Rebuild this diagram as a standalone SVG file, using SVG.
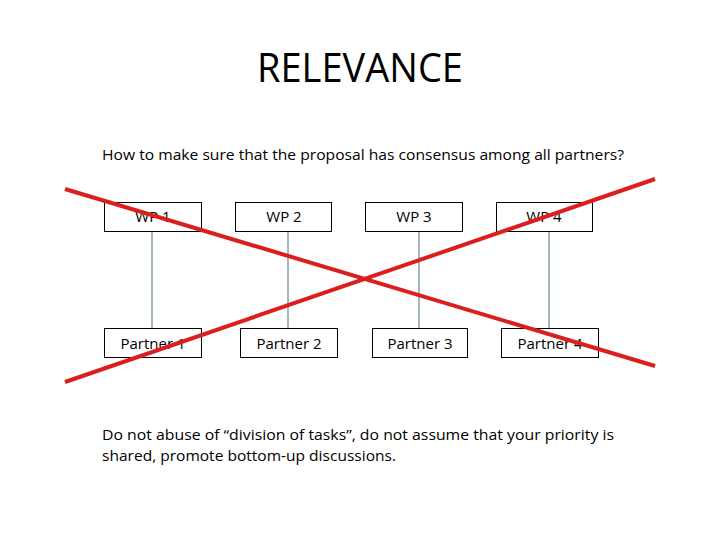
<svg xmlns="http://www.w3.org/2000/svg" width="720" height="540" viewBox="0 0 720 540">
<style>
text{font-family:"Open Sans","Liberation Sans",sans-serif;fill:#000}
.box{fill:#fff;stroke:#000;stroke-width:1}
.lbl{font-size:15px;text-anchor:middle}
.conn{stroke:#4f6f80;stroke-width:1}
.cross{stroke:#dc1e1e;stroke-width:4;stroke-linecap:butt}
.body{font-size:15px}
</style>
<rect width="720" height="540" fill="#fff"/>
<text x="360" y="82" font-size="40" text-anchor="middle" textLength="206" lengthAdjust="spacingAndGlyphs">RELEVANCE</text>
<text class="body" x="102" y="160" textLength="522" lengthAdjust="spacingAndGlyphs">How to make sure that the proposal has consensus among all partners?</text>
<g id="connectors">
<line class="conn" x1="152" y1="231" x2="152" y2="328"/>
<line class="conn" x1="288" y1="231" x2="288" y2="328"/>
<line class="conn" x1="419" y1="231" x2="419" y2="328"/>
<line class="conn" x1="549" y1="231" x2="549" y2="328"/>
</g>
<g id="wp1"><rect class="box" x="104.5" y="202.5" width="97" height="29"/><text class="lbl" x="153" y="222">WP 1</text></g>
<g id="wp2"><rect class="box" x="235.5" y="202.5" width="96" height="29"/><text class="lbl" x="284" y="222">WP 2</text></g>
<g id="wp3"><rect class="box" x="365.5" y="202.5" width="97" height="29"/><text class="lbl" x="414" y="222">WP 3</text></g>
<g id="wp4"><rect class="box" x="496.5" y="202.5" width="96" height="29"/><text class="lbl" x="544" y="222">WP 4</text></g>
<g id="partner1"><rect class="box" x="104.5" y="328.5" width="97" height="29"/><text class="lbl" x="153" y="349">Partner 1</text></g>
<g id="partner2"><rect class="box" x="240.5" y="328.5" width="97" height="29"/><text class="lbl" x="289" y="349">Partner 2</text></g>
<g id="partner3"><rect class="box" x="372.5" y="328.5" width="95" height="29"/><text class="lbl" x="420" y="349">Partner 3</text></g>
<g id="partner4"><rect class="box" x="501.5" y="328.5" width="97" height="29"/><text class="lbl" x="550" y="349">Partner 4</text></g>
<g id="cross">
<line class="cross" x1="65" y1="189" x2="655" y2="366"/>
<line class="cross" x1="65" y1="382" x2="655" y2="179"/>
</g>
<text class="body" x="102" y="440" textLength="512" lengthAdjust="spacingAndGlyphs">Do not abuse of “division of tasks”, do not assume that your priority is</text>
<text class="body" x="102" y="461" textLength="294" lengthAdjust="spacingAndGlyphs">shared, promote bottom-up discussions.</text>
</svg>
